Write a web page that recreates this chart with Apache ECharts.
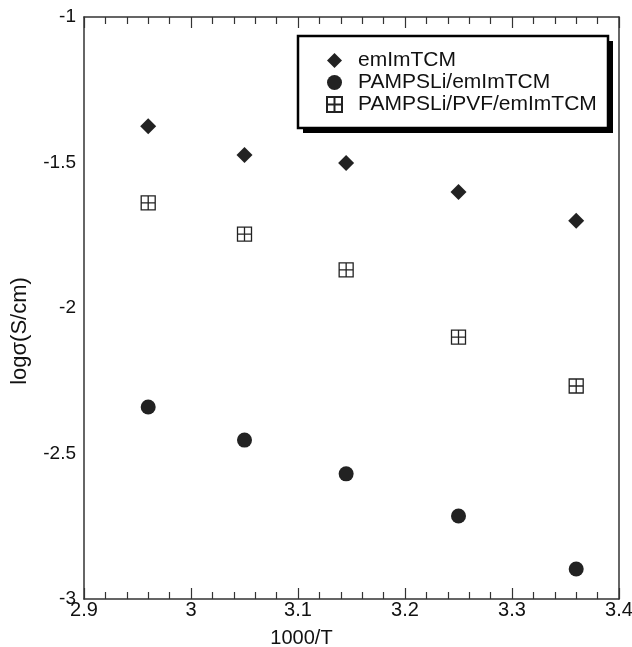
<!DOCTYPE html>
<html>
<head>
<meta charset="utf-8">
<script src="https://cdn.jsdelivr.net/npm/echarts@6/dist/echarts.min.js"></script>
<style>
  html, body { margin: 0; padding: 0; background: #fff; }
  #chart { width: 632px; height: 647px; }
</style>
</head>
<body>
<div id="chart"></div>
<script>
  // values
  const invT = [2.96, 3.05, 3.145, 3.25, 3.36];
  const emImTCM = [-1.375, -1.474, -1.502, -1.601, -1.70];
  const pampsliEmImTCM = [-2.34, -2.454, -2.57, -2.715, -2.897];
  const pampsliPvfEmImTCM = [-1.639, -1.746, -1.869, -2.10, -2.268];
  const seriesNames = ["emImTCM", "PAMPSLi/emImTCM", "PAMPSLi/PVF/emImTCM"];

  const gridIcon = "path://M0,0L2,0L2,2L0,2Z M1,0L1,2 M0,1L2,1";
  const font = "'Liberation Sans', Arial, sans-serif";

  function pairs(ys) {
    return invT.map(function (x, i) { return [x, ys[i]]; });
  }

  let chart = echarts.init(document.getElementById("chart"));
  let option = {
    backgroundColor: "#fff",
    animation: false,
    textStyle: { fontFamily: font, color: "#111" },
    grid: { left: 84, top: 17, right: 13, bottom: 48, outerBoundsMode: "none", containLabel: false },
    // legend frame with a hard drop shadow
    graphic: [
      {
        type: "rect",
        z: 1,
        shape: { x: 303, y: 41, width: 310, height: 92 },
        style: { fill: "#000" },
      },
      {
        type: "rect",
        z: 2,
        shape: { x: 298, y: 36, width: 310, height: 92 },
        style: { fill: "#fff", stroke: "#000", lineWidth: 2.5 },
      },
    ],
    legend: {
      orient: "vertical",
      left: 297,
      top: 35,
      z: 10,
      padding: [15, 8, 10, 29],
      itemGap: 1,
      itemWidth: 15,
      itemHeight: 15,
      textStyle: { fontSize: 21, color: "#111", fontFamily: font, padding: [0, 0, 0, 11] },
      data: seriesNames,
    },
    xAxis: [
      {
        type: "value",
        min: 2.9,
        max: 3.4,
        interval: 0.1,
        name: "1000/T",
        nameLocation: "middle",
        nameGap: 29,
        nameMoveOverlap: false,
        nameTextStyle: { fontSize: 20, color: "#111", padding: [0, 100, 0, 0] },
        axisLine: { lineStyle: { color: "#333", width: 1.5 } },
        axisTick: { inside: true, length: 11, lineStyle: { color: "#333", width: 1.2 } },
        minorTick: { show: true, splitNumber: 5, length: 7, lineStyle: { color: "#333", width: 1.2 } },
        axisLabel: { fontSize: 20, color: "#111", margin: 1 },
        splitLine: { show: false },
      },
      {
        type: "value",
        position: "top",
        min: 2.9,
        max: 3.4,
        interval: 0.1,
        axisLine: { lineStyle: { color: "#333", width: 1.5 } },
        axisTick: { inside: true, length: 11, lineStyle: { color: "#333", width: 1.2 } },
        minorTick: { show: true, splitNumber: 5, length: 7, lineStyle: { color: "#333", width: 1.2 } },
        axisLabel: { show: false },
        splitLine: { show: false },
      },
    ],
    yAxis: [
      {
        type: "value",
        min: -3,
        max: -1,
        interval: 0.5,
        name: "logσ(S/cm)",
        nameLocation: "middle",
        nameGap: 53,
        nameMoveOverlap: false,
        nameTextStyle: { fontSize: 22, color: "#111", padding: [0, 46, 0, 0] },
        axisLine: { show: true, lineStyle: { color: "#333", width: 1.5 } },
        axisTick: { show: false },
        axisLabel: { fontSize: 19, color: "#111", margin: 8 },
        splitLine: { show: false },
      },
      {
        type: "value",
        position: "right",
        min: -3,
        max: -1,
        interval: 0.5,
        axisLine: { show: true, lineStyle: { color: "#333", width: 1.5 } },
        axisTick: { show: false },
        axisLabel: { show: false },
        splitLine: { show: false },
      },
    ],
    series: [
      {
        name: seriesNames[0],
        type: "scatter",
        symbol: "diamond",
        symbolSize: [16, 16],
        itemStyle: { color: "#222", opacity: 1 },
        data: pairs(emImTCM),
      },
      {
        name: seriesNames[1],
        type: "scatter",
        symbol: "circle",
        symbolSize: 15,
        itemStyle: { color: "#222", opacity: 1 },
        data: pairs(pampsliEmImTCM),
      },
      {
        name: seriesNames[2],
        type: "scatter",
        symbol: gridIcon,
        symbolSize: 14,
        itemStyle: { color: "rgba(0,0,0,0)", borderColor: "#222", borderWidth: 1.3, opacity: 1 },
        data: pairs(pampsliPvfEmImTCM),
      },
    ],
  };
  option && chart.setOption(option);
</script>
</body>
</html>
